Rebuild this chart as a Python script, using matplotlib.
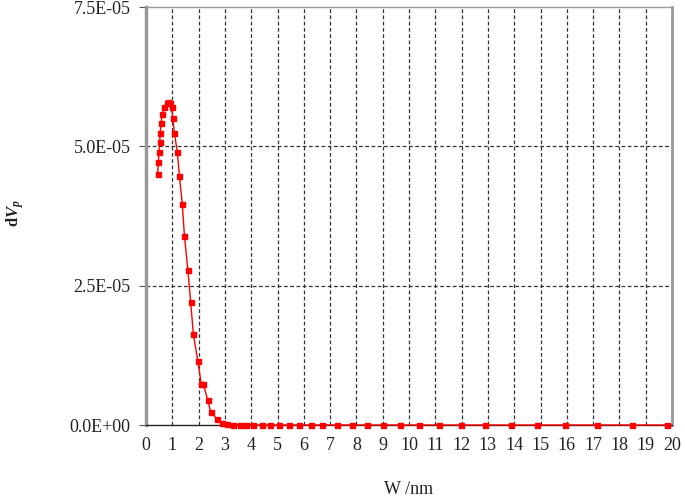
import numpy as np
import matplotlib
matplotlib.use("Agg")
import matplotlib.pyplot as plt
from matplotlib.ticker import FuncFormatter

plt.rcParams['font.family'] = ['Liberation Serif', 'DejaVu Serif']
plt.rcParams['mathtext.fontset'] = 'custom'
plt.rcParams['mathtext.rm'] = 'Liberation Serif'
plt.rcParams['mathtext.it'] = 'Liberation Serif:italic:bold'
plt.rcParams['mathtext.bf'] = 'Liberation Serif:bold'

# pore width (nm) and dVp
w_nm = [0.44, 0.47, 0.49, 0.52, 0.54, 0.57, 0.62, 0.70, 0.78, 0.85, 0.91, 0.97,
        1.02, 1.08, 1.19, 1.27, 1.38, 1.46, 1.59, 1.70, 1.80, 1.97, 2.10, 2.18,
        2.35, 2.46, 2.69, 2.88, 3.07, 3.32, 3.57, 3.81, 4.07, 4.41, 4.71, 5.06,
        5.44, 5.82, 6.27, 6.69, 7.26, 7.83, 8.40, 9.01, 9.66, 10.38, 11.14, 11.98,
        12.89, 13.88, 14.87, 15.93, 17.15, 18.48, 19.81]
dvp_e5 = [4.50, 4.71, 4.89, 5.07, 5.24, 5.41, 5.58, 5.71, 5.78, 5.80, 5.77, 5.70,
          5.50, 5.24, 4.90, 4.47, 3.96, 3.40, 2.79, 2.20, 1.63, 1.15, 0.74, 0.74,
          0.44, 0.24, 0.11, 0.03, 0.01, 0.0, 0.0, 0.0, 0.0, 0.0, 0.0, 0.0,
          0.0, 0.0, 0.0, 0.0, 0.0, 0.0, 0.0, 0.0, 0.0, 0.0, 0.0, 0.0,
          0.0, 0.0, 0.0, 0.0, 0.0, 0.0, 0.0]
dvp = np.array(dvp_e5) * 1e-5

x_ticks = list(range(0, 21))
y_ticks = [0.0, 2.5e-5, 5.0e-5, 7.5e-5]

fig = plt.figure(figsize=(6.85, 4.96), dpi=100)
ax = fig.add_axes([146/685, 1-425/496, (672-146)/685, (425-7)/496])

ax.plot(w_nm, dvp, color='#ff0000', lw=1.0, marker='s', ms=3.6,
        mec='#ff0000', mfc='#ff0000', clip_on=False, zorder=3)

ax.set_xlim(0, 20)
ax.set_ylim(0, 7.5e-5)
ax.set_xticks(x_ticks)
ax.set_yticks(y_ticks)
ax.yaxis.set_major_formatter(FuncFormatter(lambda v, p: f"{v:.1E}"))

# grid
for xv in x_ticks[1:-1]:
    ax.axvline(xv, color='#333333', lw=0.9, ls=(0, (3, 2)), zorder=1)
for yv in y_ticks[1:-1]:
    ax.axhline(yv, color='#333333', lw=0.9, ls=(0, (3, 2)), zorder=1)

ax.spines['left'].set_color('#999999')
ax.spines['left'].set_linewidth(2.5)
ax.spines['right'].set_color('#999999')
ax.spines['right'].set_linewidth(2.0)
ax.spines['top'].set_color('#999999')
ax.spines['top'].set_linewidth(1.0)
ax.spines['bottom'].set_color('#222222')
ax.spines['bottom'].set_linewidth(1.0)

ax.tick_params(axis='y', length=5, width=0.8, color='#555555', pad=6,
               labelsize=13, labelcolor='#222222')
ax.tick_params(axis='x', length=0, pad=9, labelsize=13, labelcolor='#222222')

fig.text(409/685, 1-489/496, 'W /nm', fontsize=13, ha='center', va='center',
         color='#222222')
fig.text(15/685, 1-213/496, r'd$\mathit{V}_{p}$', rotation=90, fontsize=12,
         fontweight='bold', ha='center', va='center', color='#222222')

fig.savefig('out.png', dpi=100)
